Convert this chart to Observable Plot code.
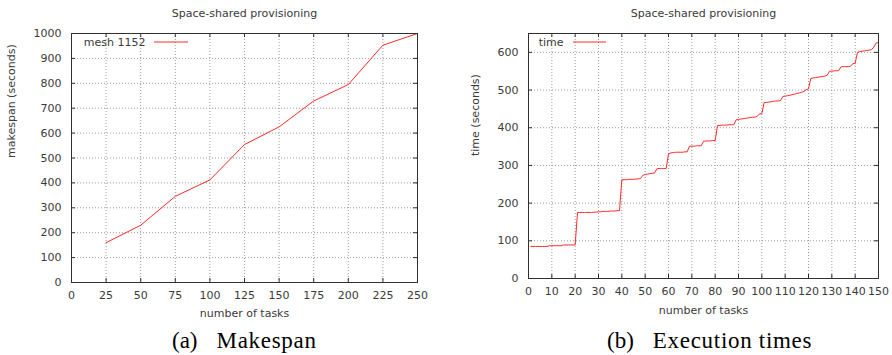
<!DOCTYPE html>
<html><head><meta charset="utf-8">
<script src="https://cdn.jsdelivr.net/npm/d3@7"></script>
<script src="https://cdn.jsdelivr.net/npm/@observablehq/plot@0.6"></script>
<style>
body{margin:0;background:#fff;}
#wrap{position:relative;width:892px;height:355px;overflow:hidden;background:#fff;}
#p1{position:absolute;left:0;top:0;}
#p2{position:absolute;left:446px;top:0;}
.cap{position:absolute;top:329px;font-family:"Liberation Serif","Times New Roman",serif;font-size:23px;line-height:23px;color:#000;white-space:nowrap;}
.cap span.t{margin-left:19px;letter-spacing:0.7px;}
</style></head><body>
<div id="wrap">
  <div id="p1"></div><div id="p2"></div>
  <div class="cap" id="c1" style="left:172px"></div>
  <div class="cap" id="c2" style="left:607px"></div>
</div>
<script>
// ---------- data ----------
const titleText = "Space-shared provisioning";
const xLabelText = "number of tasks";

// (a) Makespan
const makespanTasks = [25, 50, 75, 100, 125, 150, 175, 200, 225, 250];
const makespanValues = [160, 230, 346, 412, 554, 625, 729, 795, 953, 1000];
const makespanSeries = "mesh 1152";
const makespanYLabel = "makespan (seconds)";
const makespanXTicks = [0, 25, 50, 75, 100, 125, 150, 175, 200, 225, 250];
const makespanYTicks = [0, 100, 200, 300, 400, 500, 600, 700, 800, 900, 1000];

// (b) Execution times, task 1..150
const execSeries = "time";
const execYLabel = "time (seconds)";
const execTimes = [
  85,85,85,85,85,85,85,85,
  87,87,87,87,87,87,
  89,89,89,89,89,89,
  175,175,175,175,175,175,175,176,176,
  177,177,178,178,178,179,179,179,180,180,
  262,262,262,263,263,263,264,264,265,
  274,276,277,278,279,280,
  291,292,292,292,292,
  331,333,334,335,335,335,335,336,336,
  351,351,351,352,352,352,
  364,365,365,365,366,366,
  406,406,407,407,407,408,408,408,
  421,422,423,424,425,426,427,428,428,430,437,437,
  467,467,468,469,470,471,471,472,
  483,484,485,486,488,489,491,492,494,496,501,503,
  531,532,533,534,535,536,537,539,
  550,550,551,551,552,
  562,562,562,562,563,570,571,
  600,602,603,604,605,606,607,614,625,626
];
const execXTicks = [0, 10, 20, 30, 40, 50, 60, 70, 80, 90, 100, 110, 120, 130, 140, 150];
const execYTicks = [0, 100, 200, 300, 400, 500, 600];

const captionA = ["(a)", "Makespan"];
const captionB = ["(b)", "Execution times"];

// ---------- styling ----------
const lineColor = "#ff2a2a";
const textColor = "#3a3a3a";
const gridColor = "#9a9a9a";
const frameColor = "#303030";
const tickLen = 4;

function panel({width, height, margin, xDomain, yDomain, xTicks, yTicks, data, x, y, series, yLabel, keyTextEnd, keyLine, yLabelDx, xLabelDy}) {
  const fw = width - margin.left - margin.right;
  const fh = height - margin.top - margin.bottom;
  const swatch = () => {
    const g = d3.create("svg:g");
    g.append("line")
      .attr("x1", margin.left + keyLine[0]).attr("x2", margin.left + keyLine[1])
      .attr("y1", margin.top + 9).attr("y2", margin.top + 9)
      .attr("stroke", lineColor).attr("stroke-width", 1);
    return g.node();
  };
  return Plot.plot({
    width, height,
    marginLeft: margin.left, marginRight: margin.right,
    marginTop: margin.top, marginBottom: margin.bottom,
    style: {fontFamily: "DejaVu Sans, sans-serif", fontSize: "11px", color: textColor, background: "white"},
    x: {domain: xDomain},
    y: {domain: yDomain},
    marks: [
      Plot.gridX(xTicks, {stroke: gridColor, strokeOpacity: 1, strokeDasharray: "1,2"}),
      Plot.gridY(yTicks, {stroke: gridColor, strokeOpacity: 1, strokeDasharray: "1,2"}),
      Plot.line(data, {x, y, stroke: lineColor, strokeWidth: 1}),
      Plot.frame({stroke: frameColor, strokeWidth: 1}),
      // inward ticks on all four sides
      Plot.ruleX(xTicks, {stroke: frameColor, insetTop: fh - tickLen}),
      Plot.ruleX(xTicks, {stroke: frameColor, insetBottom: fh - tickLen}),
      Plot.ruleY(yTicks, {stroke: frameColor, insetRight: fw - tickLen}),
      Plot.ruleY(yTicks, {stroke: frameColor, insetLeft: fw - tickLen}),
      Plot.axisX(xTicks, {tickSize: 0, tickPadding: 9, tickFormat: "d", label: null, fill: textColor}),
      Plot.axisY(yTicks, {tickSize: 0, tickPadding: 10, tickFormat: "d", label: null, fill: textColor}),
      Plot.text([titleText], {frameAnchor: "top", dy: -20, lineAnchor: "middle", fill: textColor}),
      Plot.text([xLabelText], {frameAnchor: "bottom", dy: xLabelDy, lineAnchor: "middle", fill: textColor}),
      Plot.text([yLabel], {frameAnchor: "left", dx: yLabelDx, rotate: -90, lineAnchor: "middle", fill: textColor}),
      Plot.text([series], {frameAnchor: "top-left", dx: keyTextEnd, dy: 9, textAnchor: "end", lineAnchor: "middle", fill: textColor}),
      swatch
    ]
  });
}

const makespanData = makespanTasks.map((t, i) => ({task: t, value: makespanValues[i]}));
document.getElementById("p1").append(panel({
  width: 446, height: 320,
  margin: {left: 71, right: 29, top: 33, bottom: 38},
  xDomain: [0, 250], yDomain: [0, 1000],
  xTicks: makespanXTicks, yTicks: makespanYTicks,
  data: makespanData, x: "task", y: "value",
  series: makespanSeries, yLabel: makespanYLabel,
  keyTextEnd: 74, keyLine: [83, 117], yLabelDx: -60, xLabelDy: 31
}));

document.getElementById("p2").append(panel({
  width: 446, height: 320,
  margin: {left: 82, right: 14, top: 33, bottom: 42},
  xDomain: [0, 150], yDomain: [0, 650],
  xTicks: execXTicks, yTicks: execYTicks,
  data: execTimes, x: (d, i) => i + 1, y: d => d,
  series: execSeries, yLabel: execYLabel,
  keyTextEnd: 35, keyLine: [45, 78], yLabelDx: -53, xLabelDy: 32
}));

function caption(id, parts) {
  const el = document.getElementById(id);
  const a = document.createElement("span"); a.textContent = parts[0];
  const b = document.createElement("span"); b.className = "t"; b.textContent = parts[1];
  el.append(a, b);
}
caption("c1", captionA);
caption("c2", captionB);
</script>
</body></html>
